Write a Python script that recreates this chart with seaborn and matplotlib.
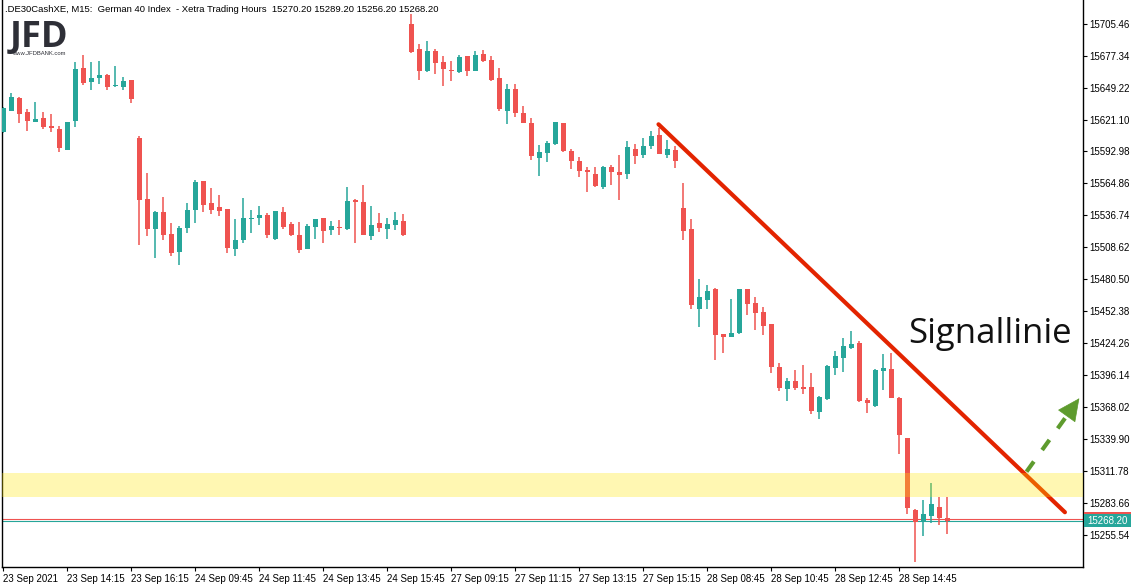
import numpy as np
import pandas as pd
import matplotlib
matplotlib.use("Agg")
import matplotlib.pyplot as plt
import matplotlib.transforms as mtransforms
from matplotlib.patches import Rectangle
import seaborn as sns

# ---------------- data ----------------
opens = [15610.4, 15628.9, 15640.1, 15628.0, 15619.2, 15622.5, 15615.4, 15612.8, 15594.6, 15620.1,
         15666.5, 15654.4, 15658.0, 15660.3, 15650.9, 15650.0, 15655.9, 15604.9, 15551.2, 15525.1,
         15539.7, 15520.4, 15504.8, 15526.0, 15541.8, 15567.0, 15547.7, 15544.1, 15542.4, 15507.5,
         15515.4, 15533.9, 15534.8, 15537.1, 15516.0, 15539.7, 15529.2, 15519.5, 15507.5, 15526.8,
         15534.5, 15524.2, 15526.5, 15525.1, 15550.3, 15548.5, 15518.9, 15530.1, 15525.1, 15528.6,
         15531.8, 15705.2, 15683.2, 15663.8, 15681.4, 15671.7, 15664.7, 15662.9, 15677.0, 15663.8,
         15678.8, 15673.5, 15657.7, 15628.6, 15648.0, 15626.9, 15618.1, 15587.3, 15591.7, 15599.6,
         15618.1, 15593.4, 15584.6, 15576.7, 15573.2, 15561.7, 15579.3, 15574.9, 15573.2, 15595.2,
         15589.9, 15597.8, 15607.5, 15589.9, 15594.3, 15543.3, 15524.8, 15454.7, 15462.6, 15472.3,
         15432.4, 15430.0, 15433.3, 15472.0, 15459.7, 15451.7, 15441.2, 15403.3, 15384.3, 15391.0,
         15385.7, 15385.7, 15364.0, 15375.5, 15402.8, 15411.6, 15420.4, 15424.5, 15374.3, 15369.3,
         15400.1, 15401.6, 15376.4, 15340.9, 15277.5, 15267.2, 15272.5, 15280.1, 15270.2]
highs = [15632.4, 15644.8, 15640.5, 15630.4, 15636.8, 15628.0, 15626.0, 15615.1, 15619.2, 15671.7,
         15677.9, 15671.7, 15672.6, 15661.5, 15668.2, 15658.5, 15656.2, 15606.3, 15574.1, 15540.6,
         15553.2, 15530.1, 15527.4, 15547.7, 15567.9, 15567.3, 15561.2, 15555.0, 15542.7, 15533.6,
         15552.1, 15541.5, 15545.3, 15538.9, 15540.9, 15544.1, 15531.2, 15530.9, 15529.2, 15533.9,
         15534.8, 15531.8, 15532.7, 15561.7, 15551.2, 15563.5, 15545.0, 15538.9, 15534.5, 15539.7,
         15538.0, 15714.0, 15687.6, 15690.2, 15683.2, 15677.0, 15672.6, 15677.9, 15677.3, 15681.4,
         15682.3, 15677.0, 15666.5, 15652.4, 15652.4, 15633.0, 15622.5, 15598.7, 15602.2, 15619.2,
         15618.4, 15595.2, 15588.1, 15579.3, 15579.3, 15580.2, 15581.1, 15589.9, 15602.2, 15599.6,
         15604.9, 15611.0, 15613.7, 15603.1, 15597.8, 15565.0, 15533.6, 15480.8, 15475.5, 15472.6,
         15432.7, 15463.2, 15472.3, 15472.3, 15464.9, 15456.1, 15441.5, 15406.9, 15393.7, 15400.7,
         15405.1, 15398.1, 15377.8, 15405.4, 15417.4, 15428.9, 15435.0, 15426.2, 15376.4, 15401.3,
         15415.1, 15415.7, 15376.6, 15341.2, 15278.1, 15286.0, 15301.3, 15288.9, 15289.2]
lows = [15609.6, 15628.5, 15618.4, 15611.3, 15618.8, 15612.5, 15610.4, 15592.8, 15594.3, 15614.8,
        15651.8, 15647.4, 15652.7, 15647.4, 15650.0, 15647.4, 15636.0, 15511.0, 15518.9, 15499.6,
        15515.4, 15501.3, 15493.4, 15521.6, 15530.4, 15540.0, 15538.3, 15536.5, 15504.0, 15501.3,
        15512.8, 15521.6, 15528.6, 15517.2, 15515.4, 15525.1, 15518.9, 15504.0, 15507.2, 15516.3,
        15512.8, 15519.8, 15519.8, 15524.2, 15512.8, 15519.5, 15515.4, 15522.4, 15516.3, 15524.2,
        15518.6, 15679.7, 15655.9, 15662.9, 15661.2, 15650.6, 15655.0, 15662.1, 15659.4, 15663.5,
        15671.7, 15655.0, 15628.6, 15617.2, 15623.3, 15617.8, 15585.5, 15571.4, 15583.7, 15598.7,
        15592.5, 15577.6, 15570.5, 15557.3, 15561.7, 15560.0, 15563.5, 15550.3, 15568.8, 15582.0,
        15587.3, 15595.2, 15590.5, 15587.3, 15578.5, 15515.1, 15454.7, 15438.8, 15454.7, 15409.8,
        15416.0, 15429.7, 15432.4, 15449.4, 15436.2, 15431.8, 15398.4, 15382.5, 15373.7, 15383.4,
        15379.9, 15362.3, 15357.9, 15374.6, 15396.6, 15399.2, 15419.5, 15372.8, 15363.2, 15368.4,
        15383.4, 15376.1, 15327.1, 15273.7, 15232.0, 15254.9, 15266.3, 15264.6, 15256.2]
closes = [15631.0, 15640.9, 15626.3, 15620.1, 15621.6, 15614.8, 15614.0, 15596.4, 15618.9, 15665.6,
          15653.6, 15657.7, 15660.3, 15650.0, 15651.5, 15655.0, 15639.2, 15550.6, 15525.1, 15539.7,
          15519.8, 15504.0, 15525.7, 15541.5, 15566.1, 15546.2, 15541.8, 15540.9, 15508.4, 15515.1,
          15534.5, 15534.5, 15537.1, 15519.8, 15540.6, 15526.8, 15519.8, 15506.3, 15527.4, 15533.6,
          15523.3, 15527.4, 15526.0, 15549.4, 15548.8, 15519.8, 15528.3, 15526.0, 15529.2, 15532.7,
          15519.5, 15680.5, 15663.8, 15681.4, 15670.9, 15665.6, 15663.8, 15676.1, 15663.8, 15677.9,
          15672.6, 15655.9, 15630.4, 15648.0, 15626.9, 15618.1, 15589.0, 15592.5, 15600.5, 15618.9,
          15593.4, 15584.6, 15575.8, 15574.9, 15562.6, 15579.3, 15574.9, 15572.3, 15596.9, 15589.0,
          15597.8, 15606.6, 15590.8, 15595.2, 15584.6, 15523.3, 15458.2, 15464.9, 15470.2, 15431.8,
          15430.0, 15433.3, 15472.0, 15459.1, 15451.2, 15439.7, 15403.6, 15385.2, 15391.0, 15385.2,
          15384.3, 15364.9, 15376.9, 15404.5, 15413.0, 15421.8, 15423.6, 15373.7, 15372.0, 15401.0,
          15402.5, 15376.4, 15343.8, 15279.6, 15267.2, 15274.0, 15282.8, 15270.8, 15268.2]

x_tick_index = [0, 8, 16, 24, 32, 40, 48, 56, 64, 72, 80, 88, 96, 104, 112]
x_tick_labels = ["23 Sep 2021", "23 Sep 14:15", "23 Sep 16:15", "24 Sep 09:45", "24 Sep 11:45",
                 "24 Sep 13:45", "24 Sep 15:45", "27 Sep 09:15", "27 Sep 11:15", "27 Sep 13:15",
                 "27 Sep 15:15", "28 Sep 08:45", "28 Sep 10:45", "28 Sep 12:45", "28 Sep 14:45"]
y_ticks = [15705.46, 15677.34, 15649.22, 15621.10, 15592.98, 15564.86, 15536.74, 15508.62,
           15480.50, 15452.38, 15424.26, 15396.14, 15368.02, 15339.90, 15311.78, 15283.66, 15255.54]

bid_price = 15268.20
ask_price = 15269.90
zone_low, zone_high = 15289.2, 15309.8
trend_x = [81.9, 132.7]
trend_y = [15616.9, 15275.5]
arrow_start = (127.9, 15311.2)
arrow_head_base = (133.0, 15361.0)
arrow_tip = (134.5, 15375.8)
header = (".DE30CashXE, M15:  German 40 Index  - Xetra Trading Hours  "
          "15270.20 15289.20 15256.20 15268.20")

# ---------------- styling ----------------
sns.set_theme(style="white")
plt.rcParams['font.family'] = ['Liberation Sans', 'DejaVu Sans']

UP, DOWN = '#26A69A', '#EF5350'
GREEN = '#5E9B2E'
W, H = 1142, 588
fig = plt.figure(figsize=(W / 100, H / 100), dpi=100)
fig.patch.set_facecolor('white')
ax = fig.add_axes([2 / W, (H - 567) / H, (1083 - 2) / W, 567 / H])
ax.set_facecolor('white')

df = pd.DataFrame(dict(i=np.arange(len(opens)), o=opens, h=highs, l=lows, c=closes))
colors = np.where(df.c >= df.o, UP, DOWN)

ax.axhline(ask_price, color=DOWN, lw=0.8, zorder=1)
ax.axhline(bid_price, color=UP, lw=0.8, zorder=1)

ax.vlines(df.i, df.l, df.h, colors=colors, lw=1.1, zorder=2)
body_bottom = np.minimum(df.o, df.c)
body_h = np.maximum(np.abs(df.c - df.o), 0.9)
ax.bar(df.i, body_h, bottom=body_bottom, width=0.62, color=colors, lw=0, zorder=3)

# trend line
ax.plot(trend_x, trend_y, color='#E32400', lw=3.0, solid_capstyle='round', zorder=4)

# dashed green arrow: dashed shaft + solid head
ax.annotate('', xy=arrow_head_base, xytext=arrow_start,
            arrowprops=dict(arrowstyle='-', lw=3.0, ls=(0, (3.0, 3.4)), color=GREEN,
                            shrinkA=0, shrinkB=0, capstyle='butt'),
            zorder=4)
ax.annotate('', xy=arrow_tip, xytext=arrow_head_base,
            arrowprops=dict(arrowstyle='-|>,head_length=1.5,head_width=0.72', lw=0.5,
                            color=GREEN, mutation_scale=10, shrinkA=0, shrinkB=0),
            zorder=4)

# yellow zone drawn over everything
ax.axhspan(zone_low, zone_high, color='#FFE600', alpha=0.3, lw=0, zorder=5)

ax.set_xlim(-0.16, 134.96)
ax.set_ylim(15227.3, 15726.3)

for s in ['left', 'bottom', 'right']:
    ax.spines[s].set_visible(True)
    ax.spines[s].set_color('black')
    ax.spines[s].set_linewidth(1.0)
ax.spines['top'].set_visible(False)

ax.yaxis.tick_right()
ax.set_yticks(y_ticks)
ax.set_yticklabels([f'{v:.2f}' for v in y_ticks])
ax.tick_params(axis='y', which='both', right=True, left=False, labelright=True, labelleft=False,
               direction='out', length=3, width=0.8, pad=1.5, labelsize=7, colors='black')
ax.set_xticks(x_tick_index)
ax.set_xticklabels(x_tick_labels, ha='left')
ax.tick_params(axis='x', bottom=True, direction='out', length=3, width=0.8, pad=2,
               labelsize=7, colors='black')
ax.grid(False)

# current price label on the axis
trans = mtransforms.blended_transform_factory(ax.transAxes, ax.transData)
bw = 47 / (1083 - 2)
ax.add_patch(Rectangle((1.0005, bid_price - 5.9), bw, 11.6, transform=trans, color=UP,
                       clip_on=False, zorder=6, lw=0))
ax.add_patch(Rectangle((1.0005, bid_price + 5.7), bw, 1.8, transform=trans, color=DOWN,
                       clip_on=False, zorder=6, lw=0))
ax.text(1.0005 + bw / 2, bid_price, f'{bid_price:.2f}', transform=trans, color='white',
        ha='center', va='center', fontsize=7, zorder=7, clip_on=False)

# texts
fig.text(5 / W, 1 - 10 / H, header, fontsize=6.8, va='center', ha='left', color='black')
logo_font = ['Open Sans', 'DejaVu Sans']
fig.text(10 / W, 1 - 46.5 / H, 'JFD', fontsize=26, fontweight='bold', family=logo_font,
         color='#2E2F37', va='baseline', ha='left')
fig.text(12 / W, 1 - 53.5 / H, 'www.JFDBANK.com', fontsize=4.2, color='#2E2F37', va='center', ha='left')
fig.text(908 / W, 1 - 343 / H, 'Signallinie', fontsize=25, family=logo_font,
         color='#111111', va='baseline', ha='left')

fig.savefig('out.png', dpi=100, facecolor='white')
